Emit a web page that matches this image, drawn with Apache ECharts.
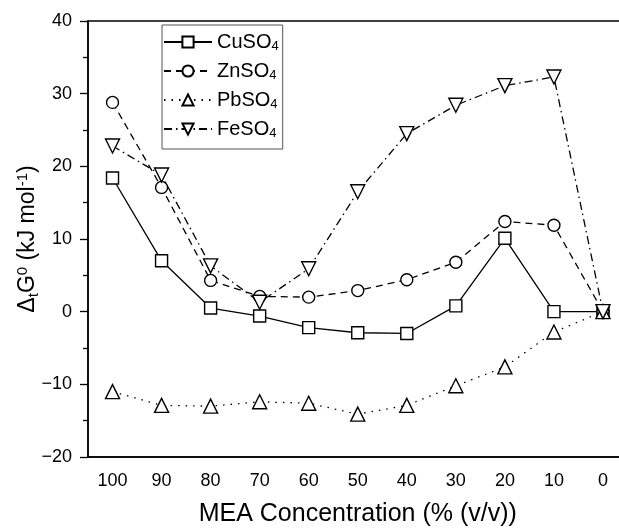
<!DOCTYPE html>
<html><head><meta charset="utf-8">
<script src="https://cdn.jsdelivr.net/npm/echarts@6/dist/echarts.min.js"></script>
<style>html,body{margin:0;padding:0;background:#fff;overflow:hidden}#c{width:619px;height:528px}</style>
</head><body><div id="c"></div>
<script>
const categories = ['100','90','80','70','60','50','40','30','20','10','0'];
const cuSO4 = [18.4, 7.0, 0.5, -0.6, -2.2, -2.9, -3.0, 0.8, 10.1, 0.0, 0.0];
const znSO4 = [28.8, 17.1, 4.3, 2.1, 2.0, 2.9, 4.4, 6.8, 12.4, 11.9, 0.0];
const pbSO4 = [-11.0, -12.9, -13.0, -12.4, -12.6, -14.1, -12.9, -10.2, -7.6, -2.8, 0.0];
const feSO4 = [22.8, 18.8, 6.3, 1.3, 5.9, 16.5, 24.5, 28.4, 31.1, 32.3, 0.0];

const font = 'Liberation Sans, Arial, sans-serif';
const mk = {color:'#fff', borderColor:'#000', borderWidth:1.4};
function ser(name, data, symbol, size, type, rot){
  return {name, type:'line', data, symbol, symbolSize:size, symbolRotate:rot||0,
    lineStyle:{color:'#000', width:1.3, type}, itemStyle:mk, showSymbol:true};
}
const chart = echarts.init(document.getElementById('c'), null, {renderer:'canvas'});
chart.setOption({
  animation:false,
  backgroundColor:'#fff',
  grid:{left:88, top:21, width:539.5, height:436, show:true, borderColor:'#000', borderWidth:1.5,
        containLabel:false, outerBoundsMode:'none'},
  legend:{
    orient:'vertical', left:162, top:25, padding:[7,4,9,1], itemGap:8,
    itemWidth:48, itemHeight:14, borderColor:'#555', borderWidth:1, backgroundColor:'#fff',
    data:['CuSO4','ZnSO4','PbSO4','FeSO4'],
    formatter: n => '{n|' + n.slice(0,-1) + '}{s|' + n.slice(-1) + '}',
    textStyle:{fontFamily:font, color:'#000',
      rich:{n:{fontSize:20, fontFamily:font, color:'#000', lineHeight:22},
            s:{fontSize:13, fontFamily:font, color:'#000', lineHeight:12, verticalAlign:'bottom'}}}
  },
  xAxis:{
    type:'category', data:categories, boundaryGap:true,
    axisLine:{onZero:false, lineStyle:{color:'#000', width:1.5}},
    axisTick:{alignWithLabel:true, length:7, lineStyle:{color:'#000', width:1.3}},
    axisLabel:{color:'#000', fontSize:18, fontFamily:font, margin:15},
    name:'MEA Concentration (% (v/v))', nameLocation:'middle', nameGap:43, nameMoveOverlap:false,
    nameTextStyle:{color:'#000', fontSize:25, fontFamily:font, lineHeight:28}
  },
  yAxis:{
    type:'value', min:-20, max:40, interval:10,
    axisLine:{show:true, onZero:false, lineStyle:{color:'#000', width:1.5}},
    axisTick:{show:true, length:8, lineStyle:{color:'#000', width:1.3}},
    minorTick:{show:true, splitNumber:2, length:5, lineStyle:{color:'#000', width:1.3}},
    splitLine:{show:false},
    axisLabel:{color:'#000', fontSize:18, fontFamily:font, margin:16,
      formatter: v => (v < 0 ? '\u2212' + Math.abs(v) : String(v))},
    name:'{n|\u0394}{s|t}{n|G}{p|0}{n| (kJ mol}{p|-1}{n|)}',
    nameLocation:'middle', nameGap:47, nameRotate:90, nameMoveOverlap:false,
    nameTextStyle:{fontFamily:font, color:'#000',
      rich:{n:{fontSize:23, fontFamily:font, color:'#000', lineHeight:26},
            s:{fontSize:15, fontFamily:font, color:'#000', lineHeight:14, verticalAlign:'bottom'},
            p:{fontSize:15, fontFamily:font, color:'#000', lineHeight:14, verticalAlign:'top'}}}
  },
  series:[
    ser('CuSO4', cuSO4, 'rect', 12, 'solid'),
    ser('ZnSO4', znSO4, 'circle', 12, [7,5]),
    ser('PbSO4', pbSO4, 'triangle', 14, [1.5,6]),
    ser('FeSO4', feSO4, 'triangle', 14, [8,4,1.5,4], 180)
  ]
});
</script></body></html>
